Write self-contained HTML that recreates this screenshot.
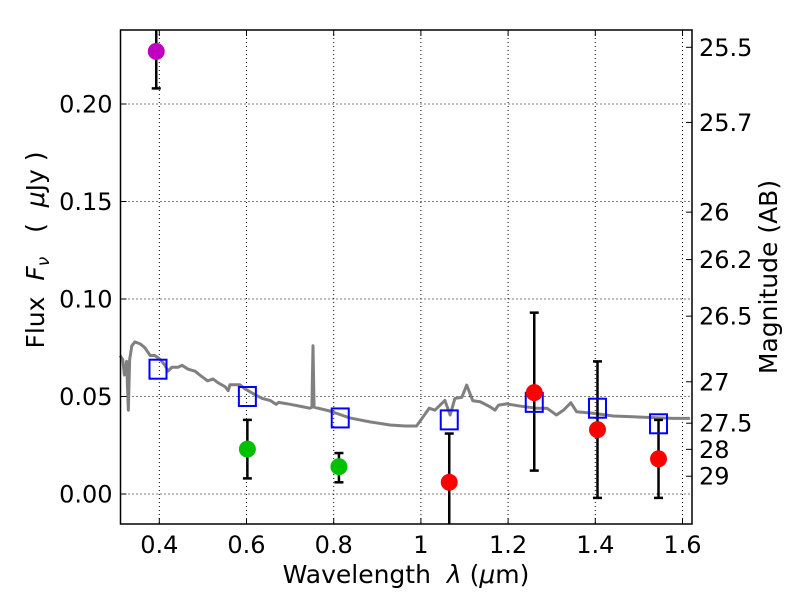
<!DOCTYPE html>
<html><head><meta charset="utf-8"><style>
body{margin:0;background:#fff}
svg text{font-family:"DejaVu Sans","Liberation Sans",sans-serif;fill:#000;white-space:pre}
</style></head><body>
<svg id="chart" width="800" height="600" xmlns="http://www.w3.org/2000/svg">
<g id="grid"></g>
<g id="spec"></g>
<g id="marks"></g>
<g id="axes"></g>
<text x="406" y="583" font-size="25" text-anchor="middle" xml:space="preserve">Wavelength  <tspan font-style="italic">λ</tspan> (<tspan font-style="italic">μ</tspan>m)</text>
<text transform="translate(44,250) rotate(-90)" font-size="25" text-anchor="middle" xml:space="preserve">Flux  <tspan font-style="italic">F</tspan><tspan font-style="italic" font-size="17" dy="5">ν</tspan><tspan dy="-5">   (  </tspan><tspan font-style="italic">μ</tspan>Jy )</text>
<text transform="translate(777,277) rotate(-90)" font-size="25" text-anchor="middle">Magnitude (AB)</text>
</svg>
<script>
const xTicks=[0.4,0.6,0.8,1.0,1.2,1.4,1.6];
const xTickLabels=["0.4","0.6","0.8","1","1.2","1.4","1.6"];
const yTicks=[0,0.05,0.10,0.15,0.20];
const yTickLabels=["0.00","0.05","0.10","0.15","0.20"];
const magTicks=[25.5,25.7,26,26.2,26.5,27,27.5,28,29];
const magLabels=["25.5","25.7","26","26.2","26.5","27","27.5","28","29"];
const specLam=[0.31,0.316,0.32,0.325,0.329,0.332,0.337,0.344,0.356,0.367,0.379,0.39,0.402,0.413,0.42,0.429,0.443,0.452,0.466,0.482,0.493,0.511,0.523,0.535,0.551,0.558,0.562,0.585,0.596,0.619,0.636,0.654,0.668,0.674,0.7,0.723,0.745,0.75,0.7525,0.755,0.792,0.837,0.883,0.929,0.964,0.99,1.019,1.032,1.055,1.067,1.078,1.094,1.105,1.119,1.136,1.158,1.17,1.178,1.197,1.227,1.266,1.289,1.311,1.327,1.344,1.357,1.395,1.441,1.518,1.579,1.617];
const specFlux=[0.071,0.069,0.061,0.068,0.043,0.069,0.076,0.078,0.077,0.075,0.071,0.071,0.069,0.066,0.063,0.065,0.065,0.066,0.064,0.063,0.061,0.058,0.059,0.057,0.055,0.053,0.056,0.056,0.054,0.051,0.049,0.048,0.046,0.047,0.046,0.045,0.044,0.0445,0.076,0.0445,0.0425,0.039,0.037,0.0354,0.0349,0.0349,0.044,0.043,0.048,0.0405,0.049,0.0496,0.0559,0.0478,0.0473,0.0448,0.043,0.0456,0.0462,0.0451,0.044,0.044,0.0405,0.043,0.0468,0.0422,0.0414,0.04,0.0393,0.0388,0.0388];
const obsLam=[0.393,0.602,0.812,1.065,1.26,1.405,1.545];
const obsFlux=[0.227,0.023,0.014,0.006,0.052,0.033,0.018];
const obsLo=[0.208,0.008,0.006,-0.02,0.012,-0.002,-0.002];
const obsHi=[0.245,0.038,0.021,0.031,0.093,0.068,0.038];
const obsColor=["#bf00bf","#00c000","#00c000","#ff0000","#ff0000","#ff0000","#ff0000"];
const modLam=[0.397,0.602,0.815,1.065,1.26,1.405,1.545];
const modFlux=[0.064,0.050,0.039,0.038,0.047,0.044,0.036];

const L=120.5,R=692,T=30,B=524;
const X=l=>159.3+(l-0.4)*436;
const Y=f=>494-f*1950;
const NS="http://www.w3.org/2000/svg";
function mk(p,tag,a){const e=document.createElementNS(NS,tag);for(const k in a)e.setAttribute(k,a[k]);p.appendChild(e);return e;}
const grid=document.getElementById('grid'),axes=document.getElementById('axes'),spec=document.getElementById('spec'),marks=document.getElementById('marks');
xTicks.forEach((t,i)=>{
 const g=mk(grid,'line',{x1:X(t),x2:X(t),y1:T,y2:B,stroke:'#000','stroke-width':1,'stroke-dasharray':'1,3'});
 
 
 mk(axes,'line',{x1:X(t),x2:X(t),y1:B,y2:B-6,stroke:'#000'});
 mk(axes,'line',{x1:X(t),x2:X(t),y1:T,y2:T+6,stroke:'#000'});
 const tx=mk(axes,'text',{x:X(t),y:B+29,'font-size':24,'text-anchor':'middle'});tx.textContent=xTickLabels[i];
 
 
});
yTicks.forEach((t,i)=>{
 const g=mk(grid,'line',{x1:L,x2:R,y1:Y(t),y2:Y(t),stroke:'#000','stroke-width':1,'stroke-dasharray':'1,3'});
 
 
 mk(axes,'line',{x1:L,x2:L+6,y1:Y(t),y2:Y(t),stroke:'#000'});
 const tx=mk(axes,'text',{x:L-8,y:Y(t)+8.5,'font-size':24,'text-anchor':'end'});tx.textContent=yTickLabels[i];
 
 
});
magTicks.forEach((m,i)=>{
 const y=Y(Math.pow(10,(23.9-m)/2.5));
 mk(axes,'line',{x1:R-6,x2:R,y1:y,y2:y,stroke:'#000'});
 const tx=mk(axes,'text',{x:R+7,y:y+8.5,'font-size':24});tx.textContent=magLabels[i];
 
 
});
const sp=mk(spec,'polyline',{points:specLam.map((l,i)=>X(l)+','+Y(specFlux[i])).join(' '),fill:'none',stroke:'#808080','stroke-width':3,'stroke-linejoin':'round'});


const clip=mk(spec,'clipPath',{id:'cp'});mk(clip,'rect',{x:L,y:T,width:R-L,height:B-T});
marks.setAttribute('clip-path','url(#cp)');
obsLam.forEach((l,i)=>{
 const x=X(l);
 const e=mk(marks,'line',{x1:x,x2:x,y1:Y(obsLo[i]),y2:Y(obsHi[i]),stroke:'#000','stroke-width':2.5});
 
 
 mk(marks,'line',{x1:x-4.5,x2:x+4.5,y1:Y(obsLo[i]),y2:Y(obsLo[i]),stroke:'#000','stroke-width':2.5});
 mk(marks,'line',{x1:x-4.5,x2:x+4.5,y1:Y(obsHi[i]),y2:Y(obsHi[i]),stroke:'#000','stroke-width':2.5});
});
modLam.forEach((l,i)=>{
 const s=mk(marks,'rect',{x:X(l)-8.5,y:Y(modFlux[i])-9.5,width:17,height:19,fill:'none',stroke:'#0000ff','stroke-width':2});
 
 
});
obsLam.forEach((l,i)=>{
 const c=mk(marks,'circle',{cx:X(obsLam[i]),cy:Y(obsFlux[i]),r:8.5,fill:obsColor[i]});
 
 
});
const fr=mk(axes,'rect',{x:L,y:T,width:R-L,height:B-T,fill:'none',stroke:'#000','stroke-width':1.5});


</script>
</body></html>
